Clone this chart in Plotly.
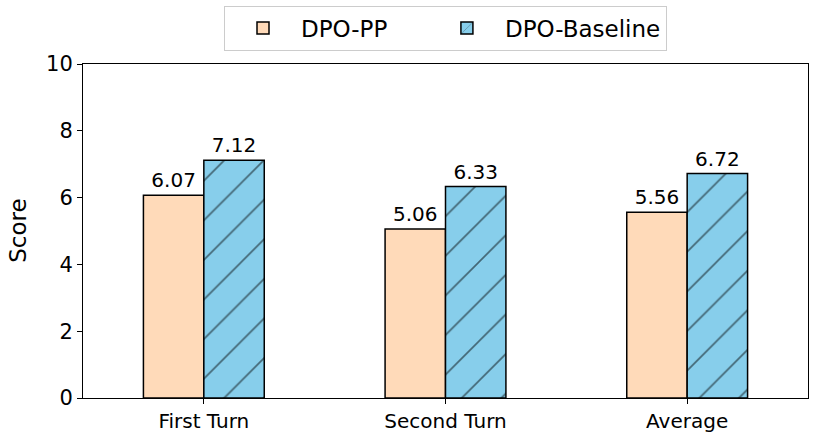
import plotly.graph_objects as go

categories = ["First Turn", "Second Turn", "Average"]
dpo_pp = [6.07, 5.06, 5.56]
dpo_baseline = [7.12, 6.33, 6.72]
y_ticks = [0, 2, 4, 6, 8, 10]

font = "DejaVu Sans"
fig = go.Figure()
fig.add_trace(go.Bar(
    x=categories, y=dpo_pp, name="DPO-PP" + "\u00a0" * 5,
    marker=dict(color="#FFDAB9", line=dict(color="black", width=1.5)),
    text=[f"{v:.2f}" for v in dpo_pp], textposition="outside",
    textfont=dict(family=font, size=20, color="black"), cliponaxis=False,
))
fig.add_trace(go.Bar(
    x=categories, y=dpo_baseline, name="DPO-Baseline",
    marker=dict(color="#87CEEB", line=dict(color="black", width=1.5),
                pattern=dict(shape="/", fgcolor="black", bgcolor="#87CEEB", size=28, solidity=0.06)),
    text=[f"{v:.2f}" for v in dpo_baseline], textposition="outside",
    textfont=dict(family=font, size=20, color="black"), cliponaxis=False,
))
fig.add_annotation(text="Score", xref="paper", yref="paper", x=-0.09, y=0.5,
                   xanchor="center", yanchor="middle", textangle=-90, showarrow=False,
                   font=dict(family=font, size=23, color="black"))
fig.update_layout(
    width=817, height=435,
    margin=dict(l=83, r=9, t=64, b=37, autoexpand=False),
    paper_bgcolor="white", plot_bgcolor="white",
    font=dict(family=font, size=20, color="black"),
    barmode="group", bargap=0.5, bargroupgap=0,
    legend=dict(orientation="h", x=0.5, xanchor="center", y=1.04, yanchor="bottom",
                bordercolor="#cccccc", borderwidth=1, font=dict(size=23, family=font),
                itemwidth=66),
    xaxis=dict(range=[-0.5, 2.5], showline=True, linecolor="black", linewidth=1, mirror=True,
               ticks="outside", ticklen=5, tickcolor="black", showgrid=False,
               tickfont=dict(size=20), automargin=False),
    yaxis=dict(range=[0, 10], tickvals=y_ticks, showline=True, linecolor="black", linewidth=1,
               mirror=True, ticks="outside", ticklen=5, tickcolor="black", showgrid=False,
               zeroline=False, tickfont=dict(size=21), automargin=False),
)
fig.write_html("out.html", config={"displayModeBar": False},
               post_script="document.body.style.margin='0';document.body.style.overflow='hidden';")
